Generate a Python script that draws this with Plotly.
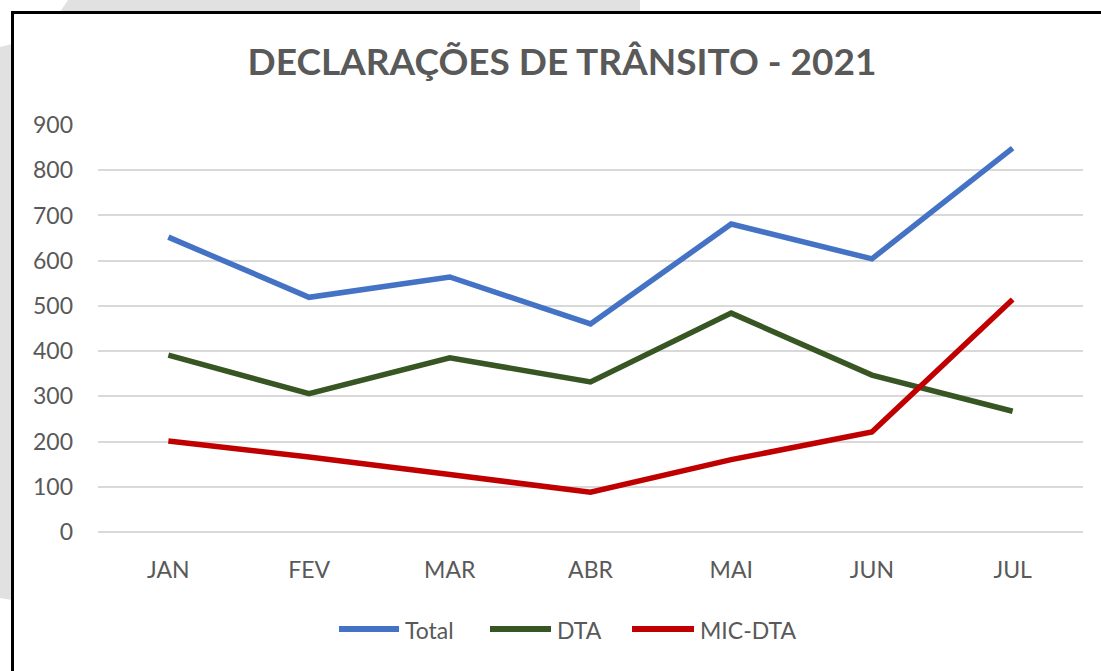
import plotly.graph_objects as go

months = ["JAN", "FEV", "MAR", "ABR", "MAI", "JUN", "JUL"]
total = [652, 519, 564, 460, 681, 604, 849]
dta = [391, 306, 385, 332, 484, 347, 267]
mic_dta = [201, 166, 127, 88, 160, 221, 514]
y_ticks = [0, 100, 200, 300, 400, 500, 600, 700, 800, 900]
series_names = ["Total", "DTA", "MIC-DTA"]
series_colors = ["#4472C4", "#375623", "#C00000"]

W, H = 1101, 671
L, R, T, B = 98, 1083, 125, 532


def px(x):
    return (x - L) / (R - L)


def py(y):
    return (B - y) / (B - T)


fig = go.Figure()
for name, vals, col in zip(series_names, [total, dta, mic_dta], series_colors):
    fig.add_trace(go.Scatter(x=months, y=vals, name=name, mode="lines",
                             line=dict(color=col, width=5.5), showlegend=False))

GRAY = "#e1e1e1"
shapes = [
    # decorative background outside the chart frame
    dict(type="path", xref="paper", yref="paper", layer="below",
         path=f"M {px(0)},{py(47)} L {px(12)},{py(44)} L {px(12)},{py(600)} L {px(0)},{py(598)} Z",
         fillcolor=GRAY, line=dict(width=0)),
    dict(type="path", xref="paper", yref="paper", layer="below",
         path=f"M {px(68)},{py(0)} L {px(640)},{py(0)} L {px(640)},{py(12)} L {px(60)},{py(12)} Z",
         fillcolor=GRAY, line=dict(width=0)),
    # chart frame
    dict(type="rect", xref="paper", yref="paper", layer="below",
         x0=px(12.5), x1=px(1130), y0=py(12.5), y1=py(700),
         fillcolor="white", line=dict(color="black", width=3)),
]

# legend drawn as line samples + text
annotations = []
legend_y = 629
sample_x = [(339, 399), (490, 551), (632, 694)]
for name, col, (x0, x1) in zip(series_names, series_colors, sample_x):
    shapes.append(dict(type="line", xref="paper", yref="paper",
                       x0=px(x0), x1=px(x1), y0=py(legend_y), y1=py(legend_y),
                       line=dict(color=col, width=6)))
    annotations.append(dict(text=name, xref="paper", yref="paper", x=px(x1 + 4),
                            y=py(legend_y + 1), xanchor="left", yanchor="middle",
                            showarrow=False, font=dict(family="Lato", size=23, color="#595959")))

fig.update_layout(
    width=W, height=H,
    margin=dict(l=L, r=W - R, t=T, b=H - B, pad=0),
    paper_bgcolor="white", plot_bgcolor="rgba(0,0,0,0)",
    font=dict(family="Lato", color="#595959", size=23),
    title=dict(text="<b>DECLARAÇÕES DE TRÂNSITO - 2021</b>", x=562 / W, xanchor="center",
               y=1 - 62 / H, yanchor="middle", xref="container", yref="container",
               font=dict(family="Lato", size=37, color="#595959")),
    shapes=shapes,
    annotations=annotations,
    showlegend=False,
    xaxis=dict(range=[-0.5, 6.5], showgrid=False, showline=False, zeroline=False,
               tickfont=dict(size=23, color="#595959"), ticklabelstandoff=22),
    yaxis=dict(range=[0, 900], tickvals=y_ticks, showgrid=True, gridcolor="#d9d9d9",
               gridwidth=1.5, zeroline=True, zerolinecolor="#d9d9d9", zerolinewidth=1.5,
               showline=False, tickfont=dict(size=23, color="#595959"),
               ticklabelstandoff=24),
)

fig.write_html("out.html", config={"displayModeBar": False},
               post_script="document.body.style.margin='0';document.body.style.overflow='hidden';")
